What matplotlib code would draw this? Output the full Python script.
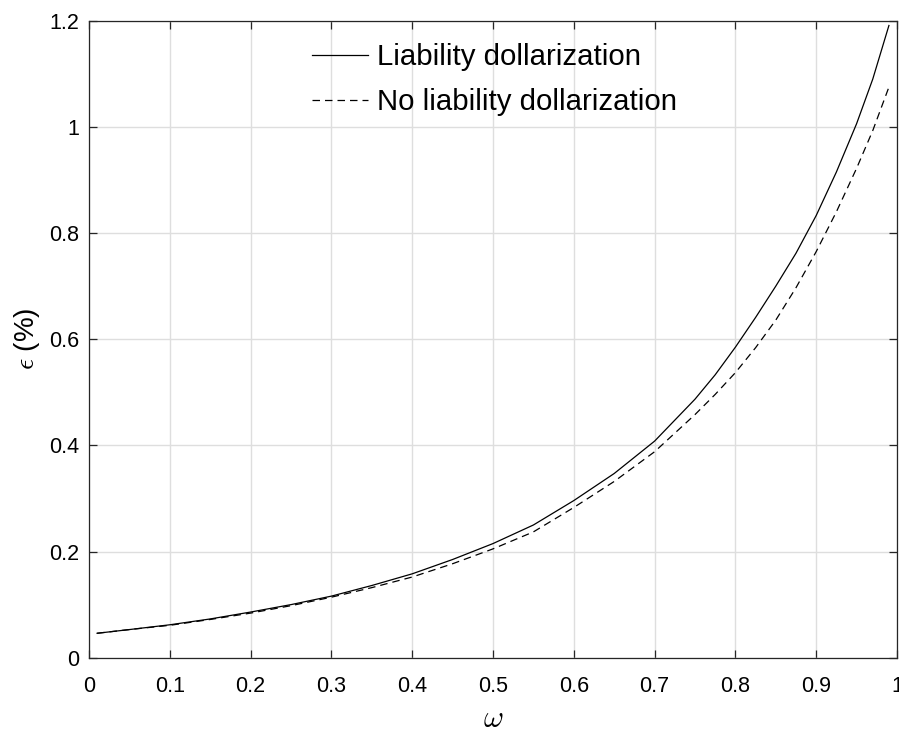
import matplotlib
matplotlib.use("Agg")
import matplotlib.pyplot as plt

omega = [0.01, 0.05, 0.10, 0.15, 0.20, 0.25, 0.30, 0.35, 0.40, 0.45, 0.50,
         0.55, 0.60, 0.65, 0.70, 0.75, 0.775, 0.80, 0.825, 0.85, 0.875, 0.90,
         0.925, 0.95, 0.97, 0.99]
liab_dollar = [0.046, 0.053, 0.062, 0.073, 0.086, 0.100, 0.116, 0.136, 0.158, 0.185, 0.215,
               0.250, 0.296, 0.347, 0.408, 0.487, 0.533, 0.585, 0.641, 0.700, 0.762, 0.833,
               0.915, 1.006, 1.090, 1.191]
no_liab_dollar = [0.046, 0.053, 0.061, 0.072, 0.084, 0.098, 0.114, 0.132, 0.152, 0.177, 0.205,
                  0.237, 0.283, 0.332, 0.388, 0.458, 0.496, 0.537, 0.584, 0.636, 0.697, 0.765,
                  0.840, 0.922, 0.993, 1.075]

xticks = [0, 0.1, 0.2, 0.3, 0.4, 0.5, 0.6, 0.7, 0.8, 0.9, 1]
xticklabels = ["0", "0.1", "0.2", "0.3", "0.4", "0.5", "0.6", "0.7", "0.8", "0.9", "1"]
yticks = [0, 0.2, 0.4, 0.6, 0.8, 1.0, 1.2]
yticklabels = ["0", "0.2", "0.4", "0.6", "0.8", "1", "1.2"]

plt.rcParams['font.family'] = ['Liberation Sans', 'DejaVu Sans']
plt.rcParams['mathtext.fontset'] = 'cm'

fig = plt.figure(figsize=(8.99, 7.31), dpi=100)
ax = fig.add_axes([89/899, 1 - 657.7/731, (897 - 89)/899, (657.7 - 20.7)/731])

ax.plot(omega, liab_dollar, color='black', lw=0.9, label='Liability dollarization')
ax.plot(omega, no_liab_dollar, color='black', lw=0.9, linestyle=(0, (6, 4)),
        label='No liability dollarization')

ax.set_xlim(0, 1)
ax.set_ylim(0, 1.2)
ax.set_xticks(xticks)
ax.set_xticklabels(xticklabels)
ax.set_yticks(yticks)
ax.set_yticklabels(yticklabels)
ax.grid(True, color='#dedede', lw=1.0)
ax.set_axisbelow(True)
ax.tick_params(direction='in', length=6, width=0.9, top=True, right=True,
               labelsize=15.5, colors='#262626', labelcolor='black')
ax.tick_params(axis='x', pad=13.5)
ax.tick_params(axis='y', pad=7)
for s in ax.spines.values():
    s.set_color('#262626')
    s.set_linewidth(0.9)

ax.set_xlabel(r'$\omega$', fontsize=22, labelpad=4.5)
ax.set_ylabel(r'$\epsilon$ (%)', fontsize=20, labelpad=5)

leg = ax.legend(loc='upper left', bbox_to_anchor=(0.262, 0.983), frameon=False,
                fontsize=21.2, handlelength=1.88, handletextpad=0.3, labelspacing=0.58,
                borderaxespad=0.0)

fig.savefig('out.png', dpi=100)
